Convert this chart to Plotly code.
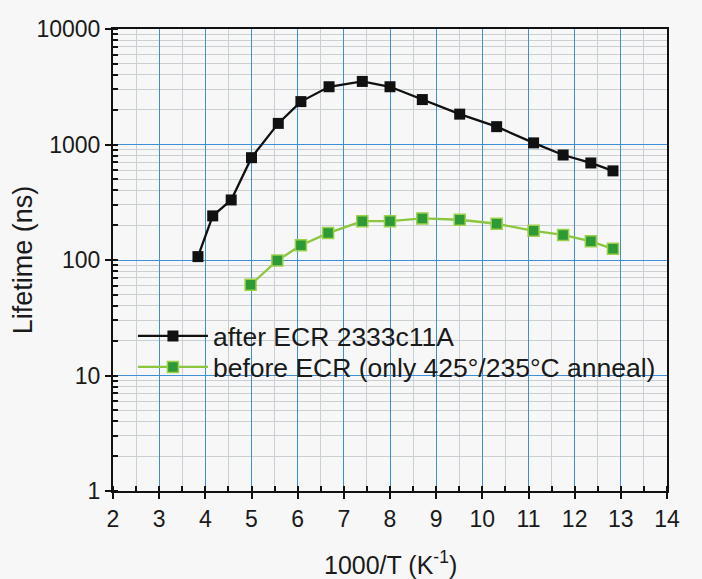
import plotly.graph_objects as go

# Lifetime vs inverse temperature
x_after = [3.84, 4.16, 4.56, 5.0, 5.58, 6.07, 6.68, 7.4, 8.0, 8.7, 9.51, 10.31, 11.11, 11.75, 12.35, 12.83]
y_after = [107, 241, 331, 769, 1523, 2352, 3162, 3516, 3162, 2449, 1832, 1427, 1033, 811, 692, 591]

x_before = [4.98, 5.56, 6.07, 6.66, 7.4, 8.0, 8.7, 9.51, 10.31, 11.11, 11.75, 12.35, 12.83]
y_before = [61, 99, 134, 171, 217, 217, 229, 223, 206, 179, 165, 145, 125]

x_ticks = list(range(2, 15))
y_ticks = [1, 10, 100, 1000, 10000]
y_ticktext = ["1", "10", "100", "1000", "10000"]

FONT = "Liberation Sans, Arial, sans-serif"
MAJOR = "#3f8fd6"
MINOR = "#c9cfd3"

fig = go.Figure()
fig.add_trace(go.Scatter(
    x=x_after, y=y_after, mode="lines+markers", name="after ECR 2333c11A",
    line=dict(color="#111111", width=2.3),
    marker=dict(symbol="square", size=11, color="#111111"),
    legend="legend",
))
fig.add_trace(go.Scatter(
    x=x_before, y=y_before, mode="lines+markers",
    name="before ECR (only 425°/235°C anneal)",
    line=dict(color="#8cc63f", width=2.3),
    marker=dict(symbol="square", size=11, color="#2e9a36",
                line=dict(color="#9bd04a", width=1.5)),
    legend="legend2",
))

axis_common = dict(
    showline=True, linecolor="#111111", linewidth=2, automargin=False,
    ticks="outside", ticklen=6, tickwidth=1.5, tickcolor="#111111",
    tickfont=dict(family=FONT, size=23, color="#1a1a1a"),
    gridcolor=MAJOR, gridwidth=1, zeroline=False,
)

legend_common = dict(
    x=0.036, xanchor="left", yanchor="middle",
    bgcolor="rgba(0,0,0,0)", font=dict(family=FONT, size=26.5, color="#1a1a1a"),
    itemwidth=70,
)

fig.update_layout(
    width=702, height=579,
    margin=dict(l=113, r=35, t=29, b=88),
    paper_bgcolor="#f6f7f6", plot_bgcolor="#f6f7f6",
    font=dict(family=FONT, size=23, color="#1a1a1a"),
    xaxis=dict(
        **axis_common, range=[2, 14], tickvals=x_ticks, mirror=True,
        minor=dict(dtick=0.5, showgrid=True, gridcolor=MINOR, gridwidth=1,
                   ticks="inside", ticklen=5, tickcolor="#111111"),
    ),
    yaxis=dict(
        **axis_common, type="log", range=[0, 4], tickvals=y_ticks,
        ticktext=y_ticktext, mirror=True,
        minor=dict(dtick="D1", showgrid=True, gridcolor=MINOR, gridwidth=1,
                   ticks="inside", ticklen=5, tickcolor="#111111"),
    ),
    legend=dict(**legend_common, y=0.335),
    legend2=dict(**legend_common, y=0.268),
    showlegend=True,
)

# Axis titles
fig.add_annotation(
    text="1000/T (K<sup>-1</sup>)", xref="paper", yref="paper",
    x=0.5, y=-0.156, xanchor="center", yanchor="middle", showarrow=False,
    font=dict(family=FONT, size=25, color="#1a1a1a"),
)
fig.add_annotation(
    text="Lifetime (ns)", xref="paper", yref="paper", textangle=-90,
    x=-0.162, y=0.5, xanchor="center", yanchor="middle", showarrow=False,
    font=dict(family=FONT, size=27, color="#1a1a1a"),
)

fig.write_html("out.html")
